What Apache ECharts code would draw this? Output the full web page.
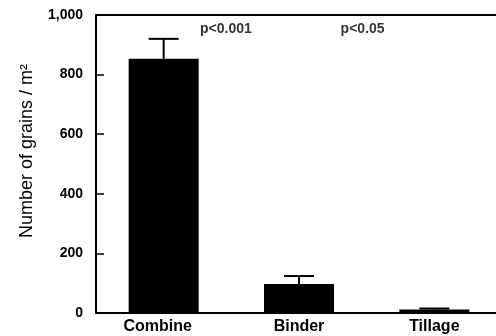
<!DOCTYPE html>
<html>
<head>
<meta charset="utf-8">
<script src="https://cdn.jsdelivr.net/npm/echarts@6/dist/echarts.min.js"></script>
<style>
  html, body { margin: 0; padding: 0; background: #fff; }
  #chart { width: 496px; height: 336px; }
</style>
</head>
<body>
<div id="chart"></div>
<script>
// categories and values
const categories = ['Combine', 'Binder', 'Tillage'];
const meanGrains = [853, 97, 12];
const upperError = [920, 124, 15];

// significance labels, placed on a hidden 0..3 axis that lines up with the categories
const pLabels = ['p<0.001', 'p<0.05'];
const pLabelX = [0.96, 1.97];
const pLabelY = [951, 951];

const yTicks = [0, 200, 400, 600, 800, 1000];

const chart = echarts.init(document.getElementById('chart'));

const font = 'Liberation Sans, Arial, Helvetica, sans-serif';
const axisLineStyle = { color: '#000', width: 2 };

chart.setOption({
  animation: false,
  grid: {
    left: 96,
    top: 15,
    bottom: 23,
    // plot runs past the right edge of the picture
    width: 406,
    outerBoundsMode: 'none',
    containLabel: false,
  },
  xAxis: [
    {
      type: 'category',
      data: categories,
      axisLine: { lineStyle: axisLineStyle },
      axisTick: { inside: true, length: 8, lineStyle: { color: '#000', width: 1.5 } },
      axisLabel: {
        interval: 0,
        hideOverlap: false,
        color: '#000',
        fontFamily: font,
        fontSize: 16,
        fontWeight: 'bold',
        margin: 6,
        formatter: (v, i) => (i === 0 ? '{first|' + v + '}' : v),
        rich: {
          first: {
            color: '#000',
            fontFamily: font,
            fontSize: 16,
            fontWeight: 'bold',
            padding: [0, 12, 0, 0],
          },
        },
      },
    },
    {
      // top frame line
      type: 'value',
      position: 'top',
      min: 0,
      max: 3,
      axisLine: { show: true, lineStyle: axisLineStyle },
      axisTick: { show: false },
      axisLabel: { show: false },
      splitLine: { show: false },
    },
  ],
  yAxis: {
    type: 'value',
    min: yTicks[0],
    max: yTicks[yTicks.length - 1],
    interval: 200,
    name: 'Number of grains / m²',
    nameLocation: 'middle',
    nameGap: 60,
    nameTextStyle: {
      color: '#000',
      fontFamily: font,
      fontSize: 18,
      padding: [0, 0, 0, 26],
    },
    axisLine: { show: true, lineStyle: axisLineStyle },
    axisTick: { inside: true, length: 8, lineStyle: { color: '#000', width: 1.5 } },
    splitLine: { show: false },
    axisLabel: {
      color: '#000',
      fontFamily: font,
      fontSize: 14,
      fontWeight: 'bold',
      margin: 13,
      formatter: (v) => v.toLocaleString('en-US'),
    },
  },
  series: [
    {
      type: 'bar',
      data: meanGrains,
      barWidth: 70,
      itemStyle: { color: '#000' },
      z: 2,
    },
    {
      // upper error bars only (lower half is hidden by the bar)
      type: 'custom',
      data: categories.map((c, i) => [i, meanGrains[i], upperError[i]]),
      renderItem: (params, api) => {
        const base = api.coord([api.value(0), api.value(1)]);
        const top = api.coord([api.value(0), api.value(2)]);
        const half = 15;
        const style = { stroke: '#000', lineWidth: 2 };
        return {
          type: 'group',
          children: [
            { type: 'line', shape: { x1: base[0], y1: base[1], x2: top[0], y2: top[1] }, style },
            { type: 'line', shape: { x1: top[0] - half, y1: top[1], x2: top[0] + half, y2: top[1] }, style },
          ],
        };
      },
      z: 3,
    },
    {
      type: 'scatter',
      xAxisIndex: 1,
      symbolSize: 0,
      data: pLabels.map((t, i) => ({ value: [pLabelX[i], pLabelY[i]], name: t })),
      label: {
        show: true,
        position: 'inside',
        formatter: (p) => p.name,
        color: '#000',
        fontFamily: font,
        fontSize: 14,
        fontWeight: 'bold',
      },
      silent: true,
    },
  ],
});
</script>
</body>
</html>
